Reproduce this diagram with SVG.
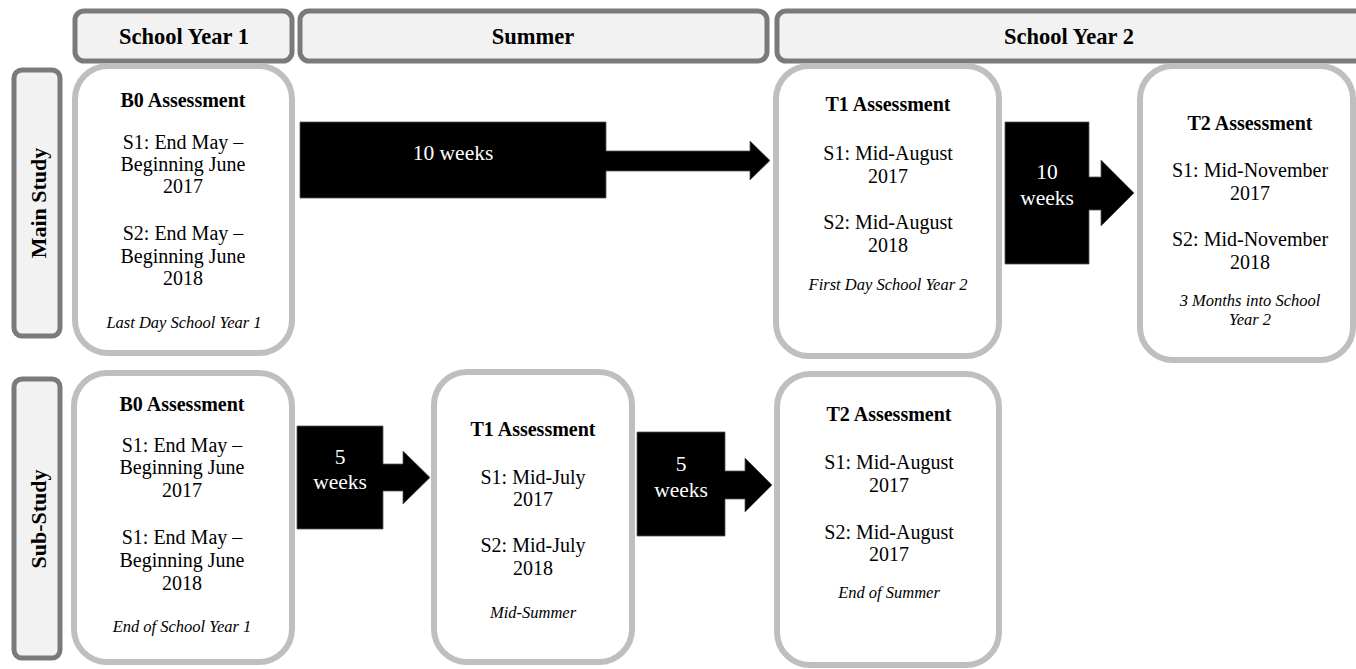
<svg xmlns="http://www.w3.org/2000/svg" width="1356" height="669" viewBox="0 0 1356 669">
<style>
.hdr{fill:#f2f2f2;stroke:#7a7a7a;stroke-width:5}
.node{fill:#ffffff;stroke:#bfbfbf;stroke-width:6}
.t{font-family:"Liberation Serif","Times New Roman",serif;text-anchor:middle;fill:#000}
.h{font-size:22.5px;font-weight:bold}
.v{font-size:22px;font-weight:bold}
.ti{font-size:20px;font-weight:bold}
.b{font-size:20px}
.i{font-size:16.5px;font-style:italic}
.w{font-size:21.5px;fill:#fff}
.arr{fill:#000;stroke:#555;stroke-width:0.8}
</style>
<rect width="1356" height="669" fill="#fff"/>

<g id="hdr-sy1"><rect class="hdr" x="75" y="11" width="217" height="50" rx="9"/><text class="t h" x="184" y="44">School Year 1</text></g>
<g id="hdr-summer"><rect class="hdr" x="300" y="11" width="467" height="50" rx="9"/><text class="t h" x="533" y="44">Summer</text></g>
<g id="hdr-sy2"><rect class="hdr" x="777" y="11" width="600" height="50" rx="9"/><text class="t h" x="1069" y="44">School Year 2</text></g>

<g id="lbl-main"><rect class="hdr" x="14" y="70" width="46" height="266" rx="8"/><text class="t v" transform="translate(46,203) rotate(-90)">Main Study</text></g>
<g id="lbl-sub"><rect class="hdr" x="14" y="379" width="46" height="279" rx="8"/><text class="t v" transform="translate(46,519) rotate(-90)">Sub-Study</text></g>

<g id="main-b0"><rect class="node" x="75" y="66" width="217" height="287" rx="33"/>
<text class="t ti" x="183" y="107">B0 Assessment</text>
<text class="t b" x="183" y="149">S1: End May –</text>
<text class="t b" x="183" y="171">Beginning June</text>
<text class="t b" x="183" y="193">2017</text>
<text class="t b" x="183" y="240">S2: End May –</text>
<text class="t b" x="183" y="263">Beginning June</text>
<text class="t b" x="183" y="285">2018</text>
<text class="t i" x="184" y="328">Last Day School Year 1</text></g>

<g id="main-t1"><rect class="node" x="776" y="66" width="223" height="290" rx="33"/>
<text class="t ti" x="888" y="111">T1 Assessment</text>
<text class="t b" x="888" y="160">S1: Mid-August</text>
<text class="t b" x="888" y="183">2017</text>
<text class="t b" x="888" y="229">S2: Mid-August</text>
<text class="t b" x="888" y="252">2018</text>
<text class="t i" x="888" y="290">First Day School Year 2</text></g>

<g id="main-t2"><rect class="node" x="1140" y="66" width="213" height="294" rx="33"/>
<text class="t ti" x="1250" y="130">T2 Assessment</text>
<text class="t b" x="1250" y="177">S1: Mid-November</text>
<text class="t b" x="1250" y="200">2017</text>
<text class="t b" x="1250" y="246">S2: Mid-November</text>
<text class="t b" x="1250" y="269">2018</text>
<text class="t i" x="1250" y="306">3 Months into School</text>
<text class="t i" x="1250" y="325">Year 2</text></g>

<g id="sub-b0"><rect class="node" x="74" y="373" width="218" height="289" rx="33"/>
<text class="t ti" x="182" y="411">B0 Assessment</text>
<text class="t b" x="182" y="452">S1: End May –</text>
<text class="t b" x="182" y="474">Beginning June</text>
<text class="t b" x="182" y="497">2017</text>
<text class="t b" x="182" y="544">S1: End May –</text>
<text class="t b" x="182" y="567">Beginning June</text>
<text class="t b" x="182" y="590">2018</text>
<text class="t i" x="182" y="632">End of School Year 1</text></g>

<g id="sub-t1"><rect class="node" x="434" y="372" width="198" height="290" rx="33"/>
<text class="t ti" x="533" y="436">T1 Assessment</text>
<text class="t b" x="533" y="484">S1: Mid-July</text>
<text class="t b" x="533" y="506">2017</text>
<text class="t b" x="533" y="552">S2: Mid-July</text>
<text class="t b" x="533" y="575">2018</text>
<text class="t i" x="533" y="618">Mid-Summer</text></g>

<g id="sub-t2"><rect class="node" x="777" y="374" width="222" height="291" rx="33"/>
<text class="t ti" x="889" y="421">T2 Assessment</text>
<text class="t b" x="889" y="469">S1: Mid-August</text>
<text class="t b" x="889" y="492">2017</text>
<text class="t b" x="889" y="539">S2: Mid-August</text>
<text class="t b" x="889" y="561">2017</text>
<text class="t i" x="889" y="598">End of Summer</text></g>

<g id="connectors">
<g id="arr-main-1"><path class="arr" d="M300,122 H606 V151 H750 V141 L770,160.5 L750,180 V171 H606 V198 H300 Z"/><text class="t w" x="453" y="160">10 weeks</text></g>
<g id="arr-main-2"><path class="arr" d="M1005,122 H1089 V177 H1101 V160 L1134,193 L1101,226 V210 H1089 V264 H1005 Z"/><text class="t w" x="1047" y="179">10</text><text class="t w" x="1047" y="205">weeks</text></g>
<g id="arr-sub-1"><path class="arr" d="M297,426 H383 V464 H403 V451 L430,477.5 L403,504 V491 H383 V529 H297 Z"/><text class="t w" x="340" y="464">5</text><text class="t w" x="340" y="489">weeks</text></g>
<g id="arr-sub-2"><path class="arr" d="M637,432 H725 V471 H745 V458 L772,485 L745,512 V499 H725 V536 H637 Z"/><text class="t w" x="681" y="471">5</text><text class="t w" x="681" y="497">weeks</text></g>
</g>
</svg>
